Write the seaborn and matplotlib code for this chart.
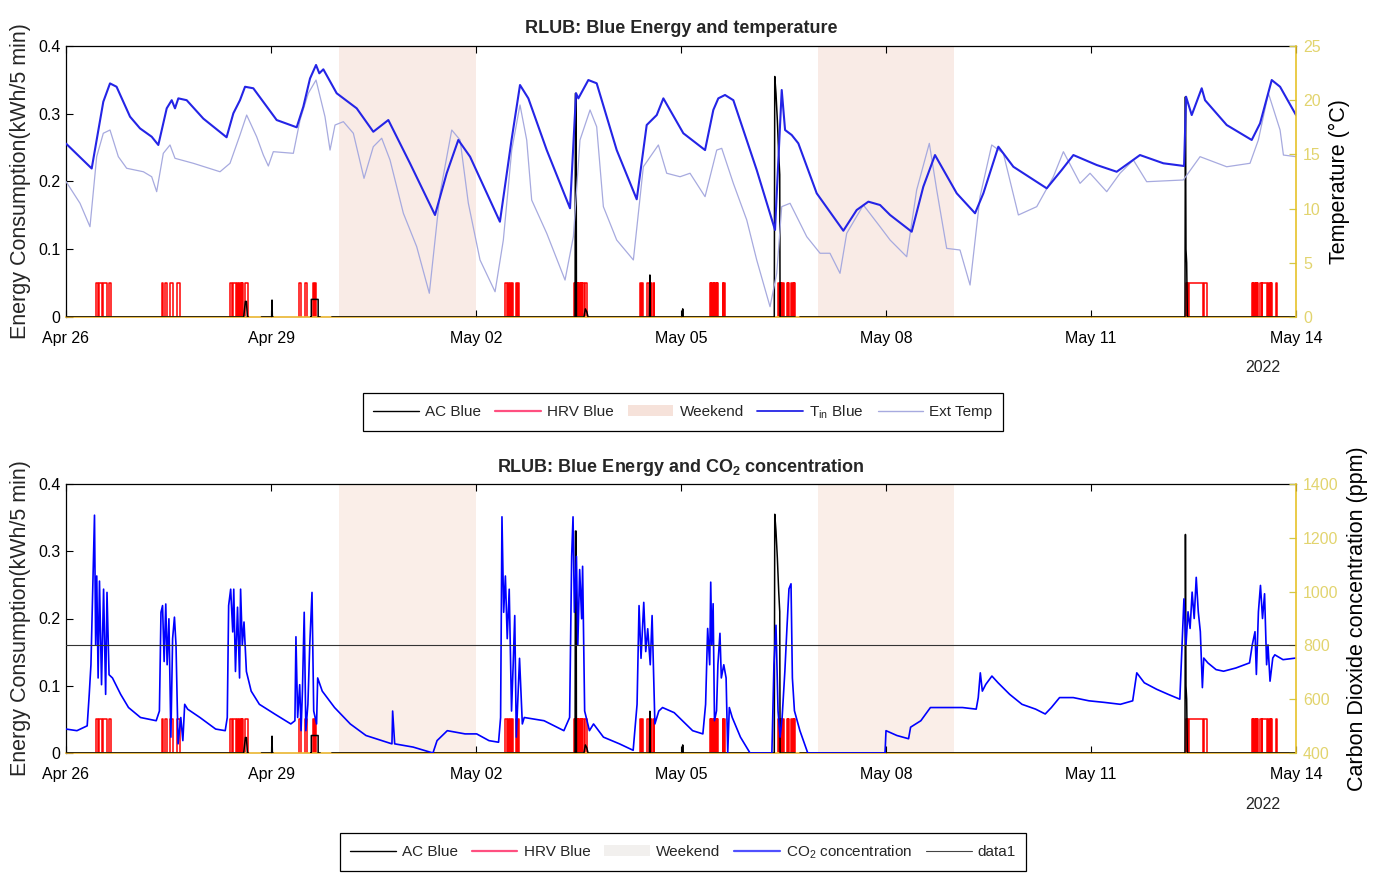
import numpy as np
import matplotlib
matplotlib.use("Agg")
import matplotlib.pyplot as plt
import seaborn as sns
import pandas as pd
from matplotlib.lines import Line2D
from matplotlib.patches import Patch

# ---------------- data (x = days since Apr 26 2022 00:00) ----------------
tin_days = [0.00, 0.376, 0.546, 0.644, 0.74, 0.937, 1.083, 1.254, 1.351, 1.474, 1.547, 1.595,
            1.644, 1.766, 2.01, 2.35, 2.449, 2.546, 2.62, 2.741, 3.083, 3.376, 3.473, 3.571,
            3.659, 3.707, 3.766, 3.961, 4.254, 4.497, 4.717, 5.034, 5.40, 5.571, 5.741, 5.913,
            6.35, 6.52, 6.644, 6.766, 7.035, 7.376, 7.464, 7.498, 7.644, 7.766, 8.059, 8.352,
            8.498, 8.645, 8.742, 9.034, 9.352, 9.473, 9.546, 9.644, 9.766, 10.108, 10.376,
            10.474, 10.523, 10.62, 10.717, 10.986, 11.376, 11.571, 11.742, 11.913, 12.06,
            12.376, 12.546, 12.717, 13.035, 13.303, 13.425, 13.644, 13.864, 14.352, 14.571,
            14.742, 15.084, 15.376, 15.717, 16.059, 16.362, 16.391, 16.474, 16.62, 16.669,
            16.986, 17.352, 17.474, 17.645, 17.767, 18.0]
tin_temp = [16.0, 13.7, 19.86, 21.55, 21.24, 18.48, 17.4, 16.63, 15.87, 19.25, 20.0, 19.25,
            20.17, 20.0, 18.3, 16.58, 18.79, 20.0, 21.24, 21.1, 18.17, 17.5, 19.4, 22.0,
            23.25, 22.48, 22.85, 20.64, 19.25, 17.09, 18.17, 14.18, 9.41, 13.26, 16.33, 14.79,
            8.79, 16.33, 21.4, 20.17, 15.4, 10.03, 20.64, 20.17, 21.86, 21.56, 15.4, 10.86,
            17.71, 18.63, 20.17, 16.95, 15.4, 19.1, 20.17, 20.48, 20.0, 13.56, 8.03,
            20.94, 17.25, 16.79, 16.02, 11.41, 7.96, 9.87, 10.64, 10.33, 9.41,
            7.87, 12.02, 14.94, 11.41, 9.57, 11.41, 15.71, 13.86, 11.87, 13.56,
            14.94, 14.02, 13.4, 14.94, 14.18, 13.93, 20.32, 18.63, 21.1, 20.0,
            17.71, 16.33, 17.86, 21.86, 21.24, 18.63]

ext_days = [0.0, 0.205, 0.351, 0.449, 0.546, 0.644, 0.766, 0.888, 1.132, 1.254, 1.327, 1.424,
            1.522, 1.595, 1.863, 2.254, 2.4, 2.546, 2.644, 2.79, 2.888, 2.961, 3.034, 3.327,
            3.425, 3.546, 3.659, 3.79, 3.864, 3.937, 4.059, 4.205, 4.361, 4.497, 4.62, 4.742,
            4.937, 5.132, 5.317, 5.474, 5.645, 5.767, 5.888, 6.059, 6.279, 6.4, 6.523, 6.644,
            6.742, 6.815, 7.035, 7.303, 7.425, 7.522, 7.669, 7.766, 7.864, 8.059, 8.303, 8.449,
            8.669, 8.791, 8.986, 9.132, 9.352, 9.523, 9.596, 9.766, 9.962, 10.108, 10.303,
            10.401, 10.474, 10.596, 10.84, 11.035, 11.18, 11.327, 11.425, 11.669, 11.913,
            12.06, 12.303, 12.449, 12.634, 12.742, 12.888, 13.083, 13.23, 13.376, 13.547,
            13.717, 13.937, 14.206, 14.449, 14.596, 14.84, 14.986, 15.23, 15.425, 15.62,
            15.815, 16.351, 16.596, 16.986, 17.327, 17.449, 17.596, 17.767, 17.816, 18.0]
ext_temp = [12.5, 10.49, 8.33, 14.79, 16.95, 17.25, 14.79, 13.72, 13.4, 12.94, 11.56, 15.1,
            15.87, 14.64, 14.18, 13.4, 14.18, 16.79, 18.63, 16.63, 14.94, 13.93, 15.25, 15.1,
            18.17, 20.64, 21.86, 18.48, 15.4, 17.71, 18.02, 16.95, 12.79, 15.71, 16.49, 14.48,
            9.57, 6.49, 2.19, 11.41, 17.25, 16.33, 10.49, 5.26, 2.33, 7.1, 15.4, 19.56,
            16.33, 10.79, 7.72, 3.41, 7.41, 16.33, 19.1, 17.55, 10.18, 7.1, 5.26, 13.86,
            15.87, 13.26, 12.94, 13.26, 11.1, 15.4, 15.56, 12.33, 8.95, 5.26, 0.95,
            4.03, 10.18, 10.49, 7.41, 5.88, 5.88, 4.03, 7.72, 10.33, 8.33,
            7.1, 5.56, 11.72, 16.02, 11.72, 6.33, 6.18, 2.95, 11.1, 15.87,
            15.1, 9.41, 10.18, 12.94, 15.25, 12.33, 13.26, 11.56, 13.26, 14.48,
            12.48, 12.64, 14.79, 13.86, 14.18, 16.33, 20.64, 17.25, 14.94, 14.79]

co2_days = [0.0, 0.16, 0.31, 0.34, 0.365, 0.394, 0.417, 0.434, 0.45, 0.47, 0.49, 0.52, 0.55,
            0.58, 0.60, 0.63, 0.68, 0.80, 0.915, 1.09, 1.32, 1.367, 1.39, 1.413, 1.436, 1.46,
            1.48, 1.506, 1.535, 1.56, 1.587, 1.61, 1.64, 1.68, 1.71, 1.737, 1.78, 1.96, 2.19,
            2.33, 2.36, 2.38, 2.41, 2.44, 2.455, 2.48, 2.51, 2.54, 2.555, 2.58, 2.605, 2.64,
            2.71, 2.83, 3.06, 3.29, 3.35, 3.365, 3.39, 3.42, 3.44, 3.46, 3.486, 3.51, 3.54,
            3.567, 3.60, 3.625, 3.667, 3.683, 3.75, 3.93, 4.16, 4.39, 4.62, 4.77, 4.78, 4.81,
            5.08, 5.37, 5.43, 5.58, 5.84, 6.01, 6.19, 6.33, 6.36, 6.38, 6.405, 6.43, 6.457,
            6.486, 6.52, 6.544, 6.567, 6.59, 6.637, 6.678, 6.706, 6.996, 7.286, 7.37, 7.40,
            7.42, 7.44, 7.47, 7.49, 7.517, 7.546, 7.56, 7.59, 7.66, 7.72, 7.865, 8.10, 8.30,
            8.357, 8.386, 8.415, 8.455, 8.484, 8.513, 8.55, 8.577, 8.618, 8.675, 8.73, 8.90,
            9.17, 9.32, 9.36, 9.39, 9.42, 9.435, 9.45, 9.47, 9.49, 9.52, 9.54, 9.57, 9.59,
            9.626, 9.66, 9.684, 9.707, 9.75, 9.87, 10.01, 10.33, 10.36, 10.39, 10.42, 10.45,
            10.48, 10.52, 10.55, 10.58, 10.61, 10.63, 10.66, 10.74, 10.855, 11.986, 12.0,
            12.16, 12.33, 12.36, 12.51, 12.65, 12.88, 13.12, 13.32, 13.35, 13.38, 13.41,
            13.46, 13.55, 13.64, 13.81, 13.99, 14.19, 14.33, 14.42, 14.54, 14.74, 14.97,
            15.2, 15.43, 15.61, 15.67, 15.78, 15.96, 16.13, 16.3, 16.36, 16.39, 16.42, 16.45,
            16.48, 16.51, 16.54, 16.57, 16.6, 16.63, 16.65, 16.71, 16.83, 16.94, 17.12,
            17.32, 17.36, 17.4, 17.42, 17.45, 17.48, 17.51, 17.54, 17.57, 17.59, 17.62,
            17.66, 17.69, 17.81, 18.0]
co2_ppm = [489, 483, 501, 618, 728, 1045, 1284, 801, 1058, 679, 1039, 654, 1009,
           618, 997, 691, 679, 618, 569, 532, 520, 556, 923, 948, 740, 954,
           728, 899, 459, 825, 905, 801, 434, 532, 446, 581, 563, 532, 489,
           483, 532, 948, 1009, 850, 1009, 703, 942, 679, 1009, 801, 887, 703,
           630, 581, 544, 508, 520, 832, 532, 654, 483, 630, 923, 483, 581,
           801, 997, 556, 508, 679, 630, 569, 508, 465, 446, 434, 556, 434,
           422, 400, 446, 483, 471, 471, 446, 440, 532, 1278, 923, 1058, 825,
           1009, 556, 728, 911, 459, 752, 508, 532, 520, 483, 532, 1131,
           1278, 923, 1131, 801, 1082, 899, 1094, 556, 483, 508, 459, 434, 410,
           581, 948, 752, 960, 777, 862, 728, 911, 508, 556, 569, 550,
           483, 471, 581, 863, 728, 1035, 802, 955, 520, 557, 728, 845, 679,
           728, 679, 400, 569, 532, 459, 400, 400, 728, 875, 557, 459,
           532, 704, 863, 1010, 1029, 679, 557, 483, 400, 400, 483,
           465, 453, 496, 520, 569, 569, 569, 563, 606, 698, 630,
           655, 686, 661, 618, 581, 563, 545, 569, 606, 606, 594,
           588, 581, 594, 698, 661, 637, 618, 600, 973, 802, 925, 863,
           998, 900, 1053, 925, 851, 643, 753, 735, 710, 704, 716,
           735, 802, 851, 692, 925, 1023, 900, 992, 728, 802, 667,
           753, 765, 747, 753]
co2_threshold = 800  # "data1"

hrv_on = [0.439, 0.488, 0.546, 0.624,
          1.400, 1.449, 1.522, 1.629,
          2.400, 2.449, 2.507, 2.530, 2.555, 2.580, 2.620,
          3.415, 3.497, 3.620, 3.640,
          6.425, 6.473, 6.500, 6.525, 6.586, 6.615,
          7.435, 7.455, 7.475, 7.495, 7.515, 7.535, 7.555, 7.596,
          8.400, 8.432, 8.498, 8.568, 8.598,
          9.425, 9.445, 9.465, 9.485, 9.505, 9.525, 9.610, 9.632,
          10.425, 10.445, 10.465, 10.488, 10.547, 10.570, 10.606, 10.632, 10.655,
          16.391, 16.410, 16.440, 16.660,
          17.352, 17.375, 17.395, 17.415, 17.435, 17.474, 17.500, 17.595, 17.615, 17.635, 17.708]
hrv_off = [0.463, 0.522, 0.595, 0.659,
           1.424, 1.483, 1.571, 1.668,
           2.424, 2.488, 2.520, 2.545, 2.570, 2.595, 2.668,
           3.434, 3.522, 3.630, 3.659,
           6.449, 6.490, 6.515, 6.546, 6.605, 6.634,
           7.450, 7.470, 7.490, 7.510, 7.530, 7.550, 7.580, 7.620,
           8.412, 8.444, 8.527, 8.576, 8.606,
           9.440, 9.460, 9.480, 9.500, 9.520, 9.547, 9.620, 9.644,
           10.440, 10.460, 10.480, 10.508, 10.565, 10.586, 10.625, 10.650, 10.670,
           16.400, 16.420, 16.635, 16.700,
           17.370, 17.390, 17.410, 17.430, 17.449, 17.498, 17.571, 17.610, 17.630, 17.644, 17.727]
hrv_level = 0.05

nan = np.nan
ac_days = [0.00, 2.60, 2.625, 2.640, 2.655, 2.67, 2.68,
           2.86, 3.010, 3.015, 3.020, 3.03, 3.04,
           3.58, 3.59, 3.59, 3.69, 3.69, 3.72, 3.73,
           3.89, 7.450, 7.455, 7.465, 7.470, 7.58, 7.60, 7.62, 7.64,
           8.540, 8.545, 8.550, 9.020, 9.025, 9.030,
           10.365, 10.372, 10.39, 10.41, 10.43, 10.445, 10.450, 10.67, 10.68,
           10.74, 16.375, 16.382, 16.390, 16.400, 16.410, 18.0]
ac_kwh = [0, 0, 0.023, 0.023, 0, 0, nan,
          0, 0, 0.025, 0, 0, nan,
          0, 0, 0.026, 0.026, 0, 0, nan,
          0, 0, 0.33, 0.33, 0, 0, 0.012, 0.008, 0,
          0, 0.062, 0, 0, 0.012, 0,
          0, 0.355, 0.33, 0.29, 0.24, 0.21, 0, 0, nan,
          0, 0, 0.325, 0.10, 0.08, 0, 0]

weekend_start = [4, 11]
weekend_end = [6, 13]

tick_days = [0, 3, 6, 9, 12, 15, 18]
tick_labels = ["Apr 26", "Apr 29", "May 02", "May 05", "May 08", "May 11", "May 14"]
energy_ticks = [0, 0.1, 0.2, 0.3, 0.4]
energy_labels = ["0", "0.1", "0.2", "0.3", "0.4"]
temp_ticks = [0, 5, 10, 15, 20, 25]
co2_ticks = [400, 600, 800, 1000, 1200, 1400]

# ---------------- style ----------------
sns.set_theme(style="white")
plt.rcParams["font.family"] = ["Liberation Sans", "DejaVu Sans"]
plt.rcParams["mathtext.fontset"] = "custom"
plt.rcParams["mathtext.rm"] = "Liberation Sans"
plt.rcParams["mathtext.bf"] = "Liberation Sans:bold"

YEL_SPINE = "#e6c229"
YEL_TICK = "#d2c84a"
YEL_LABEL = "#e2d46e"
BOT_SPINE = "#eab530"
SHADE_TOP = "#f9ebe6"
SHADE_BOT = "#faeee8"
TIN_C = "#2424e6"
EXT_C = "#a7aadf"
CO2_C = "#0000ff"

fig = plt.figure(figsize=(13.75, 8.77), dpi=100)
W, H = 1375, 877
L, R = 66, 1296


def make_axes(top, bottom):
    return fig.add_axes([L / W, 1 - bottom / H, (R - L) / W, (bottom - top) / H])


def pulses(on, off, level):
    xs, ys = [], []
    for a, b in zip(on, off):
        xs += [a, a, b, b, np.nan]
        ys += [0, level, level, 0, np.nan]
    return xs, ys


def base_axes(ax, shade):
    for s, e in zip(weekend_start, weekend_end):
        ax.axvspan(s, e, color=shade, lw=0, zorder=0)
    hx, hy = pulses(hrv_on, hrv_off, hrv_level)
    ax.plot(hx, hy, color="#ff0000", lw=1.1, zorder=2)
    ax.plot(ac_days, ac_kwh, color="black", lw=1.1, zorder=3)
    ax.set_xlim(0, 18)
    ax.set_ylim(0, 0.4)
    ax.set_xticks(tick_days)
    ax.set_xticklabels(tick_labels)
    ax.set_yticks(energy_ticks)
    ax.set_yticklabels(energy_labels)
    ax.tick_params(axis="both", direction="in", length=5, width=0.8, colors="black",
                   labelsize=11.5, top=True, bottom=True, left=True, right=False)
    ax.tick_params(axis="x", pad=10)
    ax.tick_params(axis="y", pad=4)
    ax.set_ylabel("Energy Consumption(kWh/5 min)", fontsize=15.5, labelpad=5)
    for side in ["left", "top"]:
        ax.spines[side].set_color("black")
        ax.spines[side].set_linewidth(0.9)
    ax.spines["bottom"].set_color(BOT_SPINE)
    ax.spines["bottom"].set_linewidth(1.2)
    ax.spines["right"].set_visible(False)


def right_axes(ax, ticks, label, lim):
    ax2 = ax.twinx()
    ax2.set_ylim(*lim)
    ax2.set_yticks(ticks)
    ax2.tick_params(axis="y", direction="in", length=5, width=0.9, colors=YEL_TICK,
                    labelcolor=YEL_LABEL, labelsize=11.5, pad=5)
    for side in ["left", "top", "bottom"]:
        ax2.spines[side].set_visible(False)
    ax2.spines["right"].set_color(YEL_SPINE)
    ax2.spines["right"].set_linewidth(1.2)
    ax2.set_ylabel(label, fontsize=15.5, color="black", labelpad=6)
    ax2.grid(False)
    return ax2


# ---------------- top panel ----------------
ax1 = make_axes(46, 317)
base_axes(ax1, SHADE_TOP)
ax1r = right_axes(ax1, temp_ticks, "Temperature (°C)", (0, 25))
df_ext = pd.DataFrame({"day": ext_days, "temp": ext_temp})
df_tin = pd.DataFrame({"day": tin_days, "temp": tin_temp})
sns.lineplot(data=df_ext, x="day", y="temp", ax=ax1r, color=EXT_C, lw=0.9,
             estimator=None, sort=False)
sns.lineplot(data=df_tin, x="day", y="temp", ax=ax1r, color=TIN_C, lw=1.5,
             estimator=None, sort=False)
ax1r.set_xlim(0, 18)
ax1r.set_xlabel("")
ax1.set_xlabel("")
ax1.set_title("RLUB: Blue Energy and temperature", fontsize=13, fontweight="bold", pad=9)
ax1.text(0.973, -0.185, "2022", transform=ax1.transAxes, ha="center", va="center",
         fontsize=11.5)

h_top = [Line2D([], [], color="black", lw=1),
         Line2D([], [], color="#ff4f80", lw=1.6),
         Patch(facecolor="#f6e2da", edgecolor="none"),
         Line2D([], [], color=TIN_C, lw=1.3),
         Line2D([], [], color=EXT_C, lw=1)]
l_top = ["AC Blue", "HRV Blue", "Weekend", r"T$_{\rm in}$ Blue", "Ext Temp"]
leg1 = fig.legend(h_top, l_top, loc="center", bbox_to_anchor=(683 / W, 1 - 412 / H), ncol=5,
                  fontsize=11, frameon=True, fancybox=False, edgecolor="black",
                  handlelength=3.0, handletextpad=0.4, columnspacing=0.9,
                  borderpad=0.65, framealpha=1)
leg1.get_frame().set_linewidth(0.9)

# ---------------- bottom panel ----------------
ax2 = make_axes(484, 753)
base_axes(ax2, SHADE_BOT)
ax2r = right_axes(ax2, co2_ticks, "Carbon Dioxide concentration (ppm)", (400, 1400))
df_co2 = pd.DataFrame({"day": co2_days, "ppm": co2_ppm})
sns.lineplot(data=df_co2, x="day", y="ppm", ax=ax2r, color=CO2_C, lw=1.2,
             estimator=None, sort=False)
ax2r.axhline(co2_threshold, color="#333333", lw=0.8)
ax2r.set_xlim(0, 18)
ax2r.set_xlabel("")
ax2.set_xlabel("")
ax2.set_title(r"RLUB: Blue Energy and CO$_\mathbf{2}$ concentration", fontsize=13,
              fontweight="bold", pad=9)
ax2.text(0.973, -0.193, "2022", transform=ax2.transAxes, ha="center", va="center",
         fontsize=11.5)

h_bot = [Line2D([], [], color="black", lw=1),
         Line2D([], [], color="#ff4f80", lw=1.6),
         Patch(facecolor="#f2f0ee", edgecolor="none"),
         Line2D([], [], color="#5050ff", lw=1.6),
         Line2D([], [], color="#444444", lw=0.8)]
l_bot = ["AC Blue", "HRV Blue", "Weekend", r"CO$_2$ concentration", "data1"]
leg2 = fig.legend(h_bot, l_bot, loc="center", bbox_to_anchor=(683 / W, 1 - 852 / H), ncol=5,
                  fontsize=11, frameon=True, fancybox=False, edgecolor="black",
                  handlelength=3.0, handletextpad=0.4, columnspacing=0.9,
                  borderpad=0.65, framealpha=1)
leg2.get_frame().set_linewidth(0.9)

fig.savefig("out.png", dpi=100, facecolor="white")
